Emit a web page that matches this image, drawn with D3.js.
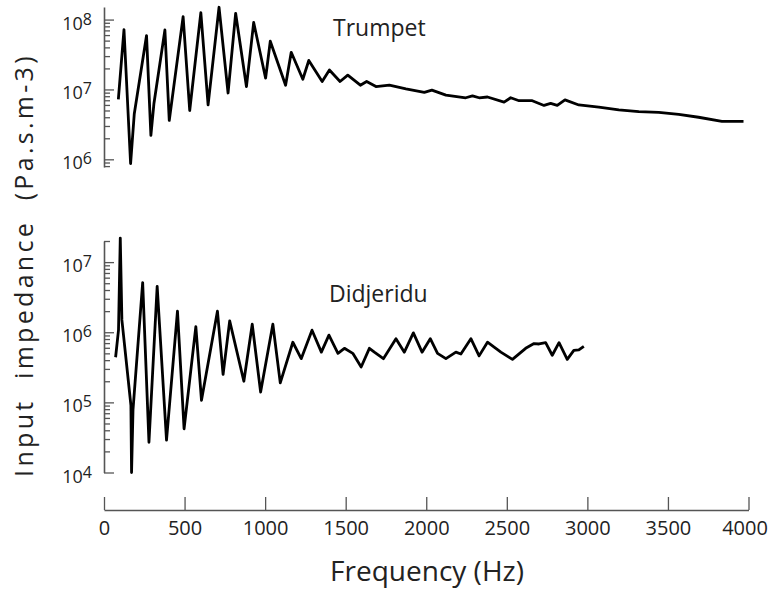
<!DOCTYPE html>
<html>
<head>
	<meta charset="utf-8">
	<title>Input impedance: trumpet and didjeridu</title>
	<script src="https://d3js.org/d3.v7.min.js"></script>
	<style>
		body { margin: 0; background: #fff; }
		text { font-family: "Open Sans", sans-serif; fill: #222; }
	</style>
</head>
<body>
	<div id="chart"></div>
	<script>
		// Data (frequency in Hz, impedance in Pa.s.m-3)
		var trumpetFreq = [89, 124, 165, 188, 264, 291, 310, 378, 405, 491, 532, 601, 646, 714, 770, 817, 884, 929,
			1003, 1032, 1127, 1162, 1234, 1271, 1354, 1399, 1465, 1513, 1591, 1630, 1688, 1771, 1874, 1988, 2035,
			2122, 2245, 2287, 2328, 2380, 2483, 2524, 2576, 2658, 2731, 2772, 2813, 2861, 2947, 3071, 3195, 3319,
			3443, 3567, 3690, 3835, 3969];
		var trumpetZ = [7.2e6, 7.2e7, 8.7e5, 4.5e6, 5.9e7, 2.2e6, 6.3e6, 7.1e7, 3.6e6, 1.1e8, 5.0e6, 1.26e8, 6.0e6,
			1.5e8, 8.9e6, 1.23e8, 1.1e7, 9.1e7, 1.45e7, 4.9e7, 1.15e7, 3.4e7, 1.4e7, 2.6e7, 1.3e7, 1.9e7, 1.3e7,
			1.6e7, 1.15e7, 1.3e7, 1.1e7, 1.15e7, 1.02e7, 9.1e6, 9.8e6, 8.3e6, 7.6e6, 8.1e6, 7.6e6, 7.8e6, 6.6e6,
			7.6e6, 6.9e6, 6.9e6, 5.9e6, 6.3e6, 5.9e6, 7.1e6, 6.0e6, 5.6e6, 5.1e6, 4.8e6, 4.7e6, 4.4e6, 4.0e6,
			3.5e6, 3.5e6];

		var didjFreq = [72, 90, 101, 111, 167, 171, 180, 240, 279, 330, 388, 456, 497, 570, 605, 704, 739, 780, 868,
			920, 972, 1048, 1094, 1172, 1224, 1291, 1349, 1396, 1452, 1492, 1544, 1596, 1647, 1678, 1734, 1812,
			1864, 1920, 1974, 2025, 2070, 2122, 2184, 2215, 2277, 2328, 2380, 2463, 2535, 2617, 2669, 2700, 2741,
			2782, 2824, 2875, 2916, 2947, 2978];
		var didjZ = [4.4e5, 1.07e6, 2.2e7, 1.5e6, 9.1e4, 1.0e4, 7.8e4, 5.1e6, 2.7e4, 4.5e6, 2.9e4, 2.0e6, 4.2e4,
			1.2e6, 1.07e5, 2.0e6, 2.5e5, 1.45e6, 2.0e5, 1.3e6, 1.4e5, 1.3e6, 1.9e5, 7.2e5, 4.2e5, 1.07e6, 5.2e5,
			9.1e5, 5.0e5, 5.9e5, 5.0e5, 3.2e5, 5.9e5, 5.2e5, 4.2e5, 8.1e5, 5.2e5, 9.8e5, 5.2e5, 8.1e5, 5.0e5,
			4.2e5, 5.2e5, 4.9e5, 8.1e5, 4.6e5, 7.2e5, 5.2e5, 4.1e5, 5.9e5, 6.9e5, 6.8e5, 7.1e5, 4.7e5, 7.1e5,
			4.1e5, 5.5e5, 5.6e5, 6.3e5];

		var xTicks = [0, 500, 1000, 1500, 2000, 2500, 3000, 3500, 4000];
		var trumpetExp = [6, 7, 8];
		var didjExp = [4, 5, 6, 7];

		var width = 769, height = 589;

		var svg = d3.select("#chart")
			.append("svg")
			.attr("width", width)
			.attr("height", height);

		// Scales
		var x = d3.scaleLinear().domain([0, 4000]).range([104, 748.5]);
		var yTop = d3.scaleLog().domain([Math.pow(10, 5.89), Math.pow(10, 8.18)]).range([167, 7]);
		var yBot = d3.scaleLog().domain([1e4, 2e7]).range([472.5, 241]);

		// Log y axis with ticks pointing inwards and 10^n labels
		function logAxis(y, exps) {
			var g = svg.append("g").attr("transform", "translate(104,0)");
			g.call(d3.axisLeft(y).ticks(10).tickSizeInner(-9).tickSizeOuter(0).tickFormat(""));
			g.select(".domain").attr("stroke", "#555").attr("stroke-width", 1.6);
			g.selectAll(".tick line")
				.attr("stroke", "#555")
				.attr("stroke-width", 1.3)
				.attr("x2", d => Math.abs(Math.log10(d) - Math.round(Math.log10(d))) < 1e-6 ? 10 : 6);
			var lab = svg.selectAll(null)
				.data(exps)
				.enter()
				.append("text")
				.attr("x", 92)
				.attr("y", d => y(Math.pow(10, d)) + 10)
				.attr("text-anchor", "end");
			lab.append("tspan").attr("font-size", 18).text("10");
			lab.append("tspan").attr("font-size", 16).attr("dy", -5).text(d => d);
		}
		logAxis(yTop, trumpetExp);
		logAxis(yBot, didjExp);

		// Frequency axis
		var gx = svg.append("g").attr("transform", "translate(0,510)");
		gx.call(d3.axisBottom(x).tickValues(xTicks).tickFormat(d3.format("d"))
			.tickSizeInner(-13).tickSizeOuter(0).tickPadding(11));
		gx.select(".domain").attr("stroke", "#555").attr("stroke-width", 1.6);
		gx.selectAll(".tick line").attr("stroke", "#555").attr("stroke-width", 1.3);
		gx.selectAll(".tick text")
			.attr("font-family", "Open Sans, sans-serif")
			.attr("font-size", 20)
			.attr("fill", "#222")
			.attr("dx", d => d === 4000 ? -4 : 0);

		// Curves
		var lineTop = d3.line().x((d, i) => x(trumpetFreq[i])).y(d => yTop(d));
		var lineBot = d3.line().x((d, i) => x(didjFreq[i])).y(d => yBot(d));

		svg.append("path")
			.datum(trumpetZ)
			.attr("fill", "none")
			.attr("stroke", "#000")
			.attr("stroke-width", 2.8)
			.attr("stroke-linejoin", "round")
			.attr("d", lineTop);

		svg.append("path")
			.datum(didjZ)
			.attr("fill", "none")
			.attr("stroke", "#000")
			.attr("stroke-width", 2.8)
			.attr("stroke-linejoin", "round")
			.attr("d", lineBot);

		// Labels
		svg.append("text")
			.attr("x", 333).attr("y", 36)
			.attr("font-family", "Liberation Sans, Arial, sans-serif")
			.attr("font-size", 23)
			.text("Trumpet");

		svg.append("text")
			.attr("x", 329).attr("y", 302)
			.attr("font-size", 23)
			.text("Didjeridu");

		svg.append("text")
			.attr("x", 427).attr("y", 581)
			.attr("text-anchor", "middle")
			.attr("font-size", 28)
			.text("Frequency (Hz)");

		svg.append("text")
			.attr("transform", "translate(33,265) rotate(-90)")
			.attr("text-anchor", "middle")
			.attr("font-size", 25)
			.attr("letter-spacing", 3.3)
			.attr("xml:space", "preserve")
			.style("white-space", "pre")
			.text("Input  impedance  (Pa.s.m-3)");
	</script>
</body>
</html>
